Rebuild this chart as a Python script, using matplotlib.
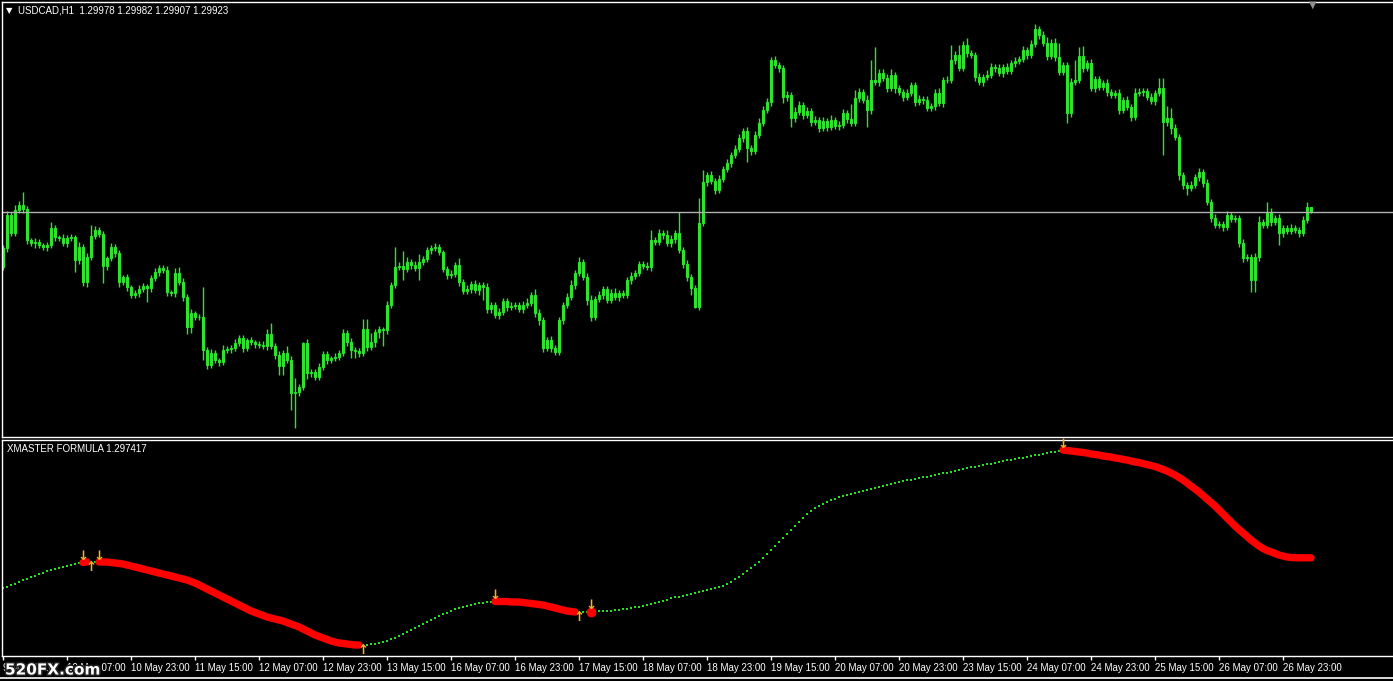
import numpy as np
import matplotlib.pyplot as plt
import matplotlib.patheffects as pe

# ---- data (prices in pips above 1.2700) ----
BASE = 1.2700
PIP = 0.0001

first_open = 237
closes = [
    256, 289, 271, 294, 299, 295, 264, 261, 262, 259,
    257, 259, 276, 267, 266, 261, 266, 267, 244, 257,
    222, 247, 268, 274, 270, 238, 246, 257, 251, 222,
    227, 217, 209, 211, 215, 218, 216, 226, 232, 236,
    234, 212, 211, 231, 222, 207, 177, 191, 187, 187,
    154, 139, 151, 144, 142, 154, 155, 156, 161, 166,
    156, 164, 162, 160, 159, 158, 170, 158, 149, 138,
    151, 144, 111, 112, 117, 161, 131, 132, 127, 137,
    150, 144, 146, 147, 151, 171, 162, 154, 153, 151,
    175, 157, 162, 172, 175, 174, 199, 219, 237, 238,
    235, 242, 239, 236, 242, 245, 254, 256, 257, 252,
    235, 229, 230, 239, 222, 213, 215, 220, 214, 219,
    217, 195, 199, 189, 192, 203, 197, 198, 199, 195,
    199, 201, 209, 191, 184, 156, 164, 156, 152, 184,
    199, 207, 219, 231, 242, 227, 204, 187, 205, 209,
    215, 204, 211, 207, 211, 209, 224, 228, 231, 240,
    238, 237, 264, 262, 271, 269, 261, 265, 271, 254,
    240, 227, 216, 197, 281, 322, 329, 323, 314, 325,
    335, 341, 349, 355, 366, 373, 356, 353, 369, 381,
    394, 402, 444, 439, 436, 407, 409, 386, 392, 399,
    389, 393, 382, 384, 376, 383, 377, 384, 378, 379,
    391, 385, 381, 406, 412, 404, 394, 424, 422, 431,
    426, 416, 429, 416, 412, 407, 411, 419, 402, 405,
    404, 396, 398, 411, 401, 424, 424, 444, 449, 436,
    459, 451, 449, 427, 422, 427, 429, 437, 436, 431,
    437, 433, 441, 443, 445, 454, 449, 460, 475, 469,
    461, 448, 461, 447, 432, 439, 391, 422, 424, 448,
    436, 441, 416, 425, 417, 421, 412, 409, 411, 394,
    404, 397, 387, 411, 412, 413, 407, 403, 411, 416,
    382, 386, 376, 367, 329, 319, 316, 319, 327, 332,
    321, 302, 286, 279, 280, 277, 289, 285, 286, 261,
    246, 247, 224, 247, 282, 279, 292, 282, 286, 271,
    276, 273, 276, 274, 271, 284, 297, 292.3,
]
up_wick = [
    3, 4, 3, 5, 4, 13, 3, 2, 4, 3,
    2, 3, 6, 3, 2, 4, 3, 3, 2, 5,
    3, 4, 11, 4, 3, 3, 2, 4, 3, 3,
    2, 3, 2, 3, 4, 3, 2, 3, 4, 3,
    3, 4, 2, 5, 6, 4, 3, 4, 2, 3,
    30, 3, 4, 3, 2, 5, 3, 3, 4, 3,
    3, 2, 3, 2, 3, 4, 5, 11, 3, 4,
    3, 7, 4, 14, 3, 1, 4, 3, 3, 4,
    3, 3, 2, 4, 3, 4, 3, 4, 3, 3,
    10, 10, 9, 3, 3, 2, 4, 3, 20, 4,
    15, 5, 3, 4, 8, 3, 3, 3, 4, 3,
    2, 3, 4, 3, 7, 3, 4, 3, 4, 3,
    3, 4, 3, 3, 4, 3, 3, 4, 3, 3,
    4, 5, 3, 6, 4, 3, 3, 4, 3, 3,
    3, 4, 5, 3, 5, 3, 4, 5, 3, 4,
    3, 3, 4, 5, 3, 3, 3, 4, 3, 3,
    3, 4, 10, 3, 4, 3, 5, 4, 3, 21,
    3, 4, 3, 3, 25, 12, 3, 4, 3, 4,
    3, 4, 3, 4, 4, 3, 4, 3, 4, 5,
    4, 4, 3, 4, 3, 3, 4, 3, 5, 4,
    3, 4, 3, 4, 3, 4, 3, 5, 3, 4,
    4, 3, 15, 8, 4, 3, 5, 20, 33, 4,
    4, 4, 6, 3, 3, 3, 4, 3, 3, 4,
    3, 4, 3, 4, 5, 3, 4, 15, 4, 10,
    4, 7, 3, 3, 4, 3, 5, 4, 3, 4,
    3, 4, 3, 4, 3, 4, 3, 4, 5, 3,
    4, 6, 4, 5, 14, 3, 3, 4, 20, 9,
    10, 3, 4, 3, 3, 3, 4, 3, 3, 4,
    3, 4, 3, 5, 4, 3, 3, 4, 3, 10,
    10, 12, 10, 4, 3, 3, 3, 4, 3, 4,
    3, 4, 3, 4, 3, 3, 4, 3, 3, 3,
    4, 3, 3, 4, 6, 3, 10, 4, 3, 4,
    3, 3, 4, 3, 3, 4, 5, 0.4,
]
down_wick = [
    3, 4, 3, 3, 3, 4, 4, 3, 5, 3,
    3, 4, 3, 4, 3, 3, 4, 3, 12, 4,
    4, 5, 3, 3, 3, 17, 4, 3, 4, 5,
    3, 4, 3, 3, 4, 3, 14, 4, 3, 4,
    3, 4, 3, 4, 3, 4, 7, 6, 3, 3,
    10, 4, 3, 3, 4, 3, 3, 4, 3, 3,
    4, 3, 3, 4, 3, 3, 4, 3, 4, 9,
    9, 3, 17, 35, 4, 3, 6, 4, 3, 3,
    3, 4, 3, 3, 3, 3, 4, 8, 7, 4,
    3, 4, 3, 5, 6, 16, 4, 3, 3, 3,
    11, 3, 4, 3, 12, 3, 3, 4, 3, 3,
    3, 4, 3, 3, 4, 3, 3, 4, 3, 5,
    13, 4, 4, 3, 4, 3, 4, 3, 3, 3,
    4, 3, 3, 4, 5, 4, 3, 4, 3, 3,
    4, 3, 3, 4, 3, 3, 5, 4, 3, 3,
    4, 3, 3, 3, 4, 3, 3, 4, 3, 3,
    3, 3, 4, 3, 3, 4, 3, 4, 4, 3,
    4, 4, 7, 1, 3, 3, 4, 3, 4, 3,
    3, 3, 4, 3, 3, 4, 14, 4, 3, 3,
    3, 3, 4, 3, 4, 6, 4, 9, 4, 3,
    4, 3, 4, 3, 4, 3, 4, 3, 3, 4,
    3, 4, 3, 3, 4, 3, 17, 4, 3, 4,
    3, 4, 3, 5, 3, 4, 3, 3, 4, 3,
    4, 3, 3, 4, 3, 4, 3, 3, 4, 3,
    3, 4, 3, 4, 3, 4, 3, 3, 4, 3,
    4, 3, 3, 4, 3, 3, 4, 3, 3, 4,
    3, 4, 3, 4, 3, 3, 10, 4, 3, 3,
    4, 3, 3, 4, 3, 3, 4, 3, 3, 4,
    3, 3, 4, 3, 3, 4, 3, 3, 4, 3,
    33, 4, 6, 3, 5, 4, 7, 3, 3, 4,
    4, 3, 4, 3, 3, 4, 3, 3, 3, 4,
    4, 3, 12, 12, 4, 3, 3, 4, 3, 12,
    4, 3, 3, 3, 4, 3, 3, 1.6,
]
# XMASTER FORMULA values (pips above 1.2700)
xmaster = [
    244, 245, 247, 248, 250, 252, 253, 255, 256, 258,
    259, 261, 262, 263, 264, 265, 266, 267, 268, 269,
    269.5, 270, 270, 270, 270, 270, 270, 269.5, 269, 268.5,
    268, 267, 266, 265, 264, 263, 262, 261, 260, 259,
    258, 257, 256, 255, 254, 253, 252, 250.5, 249, 247,
    245, 243, 241, 239, 237, 235, 233, 231, 229, 227,
    225, 223, 221, 219.5, 218, 216.5, 215, 214, 213, 212,
    211, 209.5, 208, 206.5, 205, 203, 201, 199, 197, 195.5,
    194, 192.5, 191, 190, 189, 188.5, 188, 187.5, 187, 187,
    187, 187, 187.5, 188, 189, 190, 191, 192.5, 194, 196,
    198, 200, 202, 204, 206, 208, 210, 212, 214, 216,
    218, 219.5, 221, 222.5, 224, 225, 226, 227, 228, 228.5,
    229, 229.5, 230, 230.5, 230.5, 230.5, 230.5, 230, 230, 230,
    229.5, 229, 228.5, 228, 227.5, 227, 226, 225, 224, 223,
    222, 221, 220.5, 220, 220, 220, 220.5, 220.5, 221, 221,
    221, 221.5, 221.5, 222, 222, 222.5, 223, 224, 224.5, 225,
    226, 227, 228, 229, 230, 231, 232, 233.5, 234.5, 235.5,
    236.5, 237.5, 238.5, 239.5, 240, 241, 242, 242.5, 243.5, 244.5,
    246, 248, 250, 252.5, 255, 258, 261, 264, 267, 270,
    274, 278, 282, 286, 290, 294, 298, 302, 306, 310,
    314, 318, 321, 324, 326, 328, 330, 332, 333.5, 335,
    336, 337, 338, 339, 340, 341, 342, 343, 344, 345,
    346, 347, 347.5, 348.5, 349.5, 350.5, 351.5, 352, 353, 354,
    355, 355.5, 356.5, 357, 358, 359, 359.5, 360.5, 361, 362,
    363, 363.5, 364.5, 365, 366, 366.5, 367.5, 368, 369, 370,
    370.5, 371.5, 372, 373, 374, 374.5, 375, 376, 377, 377.5,
    378.5, 379, 380, 380.5, 381, 382, 381.5, 381, 380.5, 380,
    379.5, 379, 378, 377.5, 377, 376, 375.5, 375, 374, 373.5,
    372.5, 372, 371, 370, 369.5, 368.5, 367.5, 366.5, 365.5, 364,
    362.5, 361, 359, 357, 354.5, 352, 349, 346, 343, 340,
    336.5, 333, 329.5, 326, 322, 318, 314, 310, 306, 302.5,
    299, 295.5, 292, 289, 286, 283.5, 281.5, 280, 278.5, 277,
    276, 275, 274.5, 274.3, 274.2, 274.2, 274.2, 274.17,
]
# bars where the indicator is falling (red), as (first, last) bar
red_runs = [(20, 21), (24, 89), (123, 143), (147, 147), (265, 327)]
arrows_down = [20, 24, 123, 147, 265]
arrows_up = [22, 90, 144]

tick_bars = [0] + [16 * k for k in range(1, 21)]
tick_labels = ['9 May 2016', '10 May 07:00', '10 May 23:00', '11 May 15:00',
               '12 May 07:00', '12 May 23:00', '13 May 15:00', '16 May 07:00',
               '16 May 23:00', '17 May 15:00', '18 May 07:00', '18 May 23:00',
               '19 May 15:00', '20 May 07:00', '20 May 23:00', '23 May 15:00',
               '24 May 07:00', '24 May 23:00', '25 May 15:00', '26 May 07:00',
               '26 May 23:00']

header = 'USDCAD,H1  1.29978 1.29982 1.29907 1.29923'
ind_name = 'XMASTER FORMULA 1.297417'

# ---- build OHLC ----
c = BASE + np.array(closes) * PIP
o = np.concatenate([[BASE + first_open * PIP], c[:-1]])
h = np.maximum(o, c) + np.array(up_wick) * PIP
l = np.minimum(o, c) - np.array(down_wick) * PIP
ind = BASE + np.array(xmaster) * PIP
x = np.arange(len(c))

W, H = 1393, 681
CANDLE = '#2ee22e'
FONT = 'Liberation Sans'

fig = plt.figure(figsize=(W / 100, H / 100), dpi=100, facecolor='black')


def frac(px, py, pw, ph):
    return [px / W, 1 - (py + ph) / H, pw / W, ph / H]


ax1 = fig.add_axes(frac(2, 2, 1395, 434.5), facecolor='black')
ax2 = fig.add_axes(frac(2, 439.5, 1395, 216), facecolor='black')

for ax in (ax1, ax2):
    ax.set_xlim(-0.25, -0.25 + 1395 / 4)
    for s in ax.spines.values():
        s.set_color('white')
        s.set_linewidth(1.0)
    ax.spines['right'].set_visible(False)

# price panel
ax1.set_ylim(BASE + 67.5 * PIP, BASE + 502 * PIP)
ax1.set_xticks([])
ax1.set_yticks([])
ax1.vlines(x, l, h, color=CANDLE, linewidth=1.0)
bull = c >= o
body = np.maximum(np.abs(c - o), 0.3 * PIP)
ax1.bar(x[bull], body[bull], bottom=np.minimum(o, c)[bull], width=0.55,
        color='black', edgecolor=CANDLE, linewidth=0.8)
ax1.bar(x[~bull], body[~bull], bottom=np.minimum(o, c)[~bull], width=0.55,
        color='#b0f0a8', edgecolor=CANDLE, linewidth=0.8)
ax1.axhline(c[-1], color='#b0b0b0', linewidth=1.0)

# indicator panel
ax2.set_ylim(BASE + 176.5 * PIP, BASE + 392.5 * PIP)
ax2.set_yticks([])
is_red = np.zeros(len(x), dtype=bool)
for a, b in red_runs:
    is_red[a:b + 1] = True
ax2.scatter(x[~is_red], ind[~is_red], marker='s', s=3.8, color='#26e026',
            linewidths=0)
for a, b in red_runs:
    if b > a:
        ax2.plot(x[a:b + 1], ind[a:b + 1], color='#ff0000', linewidth=5.3,
                 solid_capstyle='round')
    else:
        ax2.plot(x[a], ind[a], 'o', color='#ff0000', markersize=6)
for i in arrows_down:
    ax2.text(x[i], ind[i] - 0.5 * PIP, '\u2193', ha='center', va='bottom',
             fontsize=9.5, color='#ffb020', fontweight='bold')
for i in arrows_up:
    ax2.text(x[i], ind[i] + 0.5 * PIP, '\u2191', ha='center', va='top',
             fontsize=9.5, color='#ffb020', fontweight='bold')

ax2.set_xticks(tick_bars)
ax2.set_xticklabels(tick_labels, ha='left', family=FONT, fontsize=7,
                    color='white')
ax2.tick_params(axis='x', direction='out', length=3, width=1, colors='white',
                pad=2.5)

# texts
fig.text(6 / W, 1 - 10.5 / H, '\u25bc', color='white', fontsize=6,
         va='center', ha='left', family='DejaVu Sans')
fig.text(18 / W, 1 - 10.5 / H, header, color='white', fontsize=7,
         va='center', ha='left', family=FONT)
fig.text(7 / W, 1 - 448.5 / H, ind_name, color='white', fontsize=7,
         va='center', ha='left', family=FONT)
fig.text(1313 / W, 1 - 4.5 / H, '\u25bc', color='#909090', fontsize=7,
         va='center', ha='center', family='DejaVu Sans')
fig.text(5 / W, 1 - 670 / H, '520FX.com', color='white', fontsize=11,
         fontweight='bold', va='center', ha='left', family='DejaVu Sans',
         path_effects=[pe.withStroke(linewidth=2.2, foreground='#202020')])

# bottom window edge
fig.add_artist(plt.Line2D([0, 1], [1 - 677.5 / H, 1 - 677.5 / H],
                          color='white', linewidth=1.2))

fig.savefig('out.png', dpi=100, facecolor='black')
